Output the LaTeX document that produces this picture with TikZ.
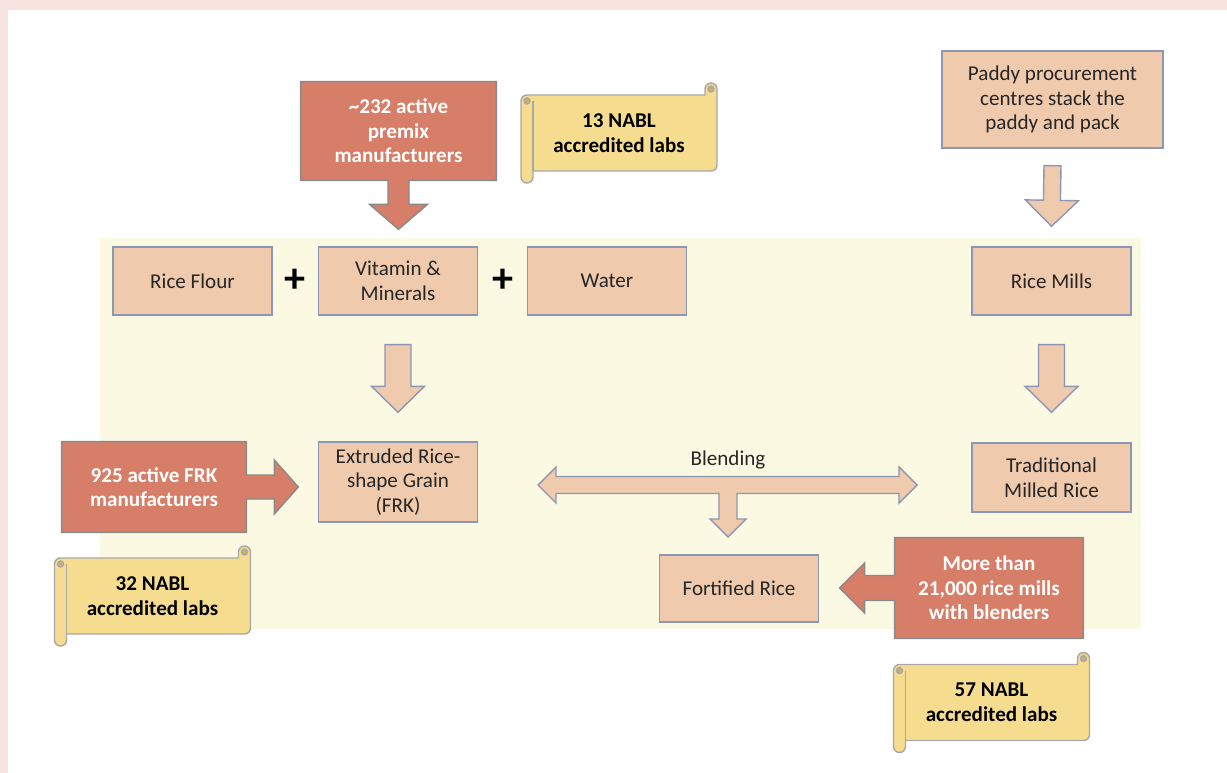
\documentclass[tikz,border=0pt]{standalone}
\usepackage{fontspec}
\setmainfont{Carlito}
\usetikzlibrary{backgrounds,calc}
\tikzset{>=latex}

\definecolor{pagepink}{HTML}{F7E4E0}
\definecolor{panelcream}{HTML}{FCF9E3}
\definecolor{peach}{HTML}{F0CAAD}
\definecolor{peachline}{HTML}{8C97B3}
\definecolor{brick}{HTML}{D67E67}
\definecolor{brickline}{HTML}{8A8A8A}
\definecolor{parchment}{HTML}{F5DC8F}
\definecolor{parchline}{HTML}{A8A8A8}
\definecolor{curl}{HTML}{C9B06A}
\definecolor{inkgray}{HTML}{262626}

\tikzset{
    stepbox/.style = {draw=peachline, fill=peach, line width=0.8pt, minimum width=3.18cm,
        minimum height=1.36cm, align=center, text=inkgray, font=\fontsize{12}{14}\selectfont},
    callouttext/.style = {inner sep=0pt, align=center, text=white, font=\bfseries\fontsize{12}{14}\selectfont},
    calloutline/.style = {draw=brickline, fill=brick, line width=0.8pt},
    labtext/.style = {align=center, text=black, font=\bfseries\fontsize{12}{14}\selectfont},
    scrollline/.style = {draw=parchline, fill=parchment, line width=0.8pt},
    flowarrow/.style = {draw=peachline, fill=peach, line width=0.8pt},
    plussign/.style = {text=black, font=\bfseries\fontsize{24}{24}\selectfont},
}

% block arrow from #2 to #3, #1 = half width of the shaft
\newcommand{\fatarrow}[3][0.26cm]{%
    \coordinate (fa-s) at #2;
    \coordinate (fa-e) at #3;
    \coordinate (fa-n) at ($(fa-e)!0.52cm!(fa-s)$);
    \filldraw[flowarrow] ($(fa-s)!#1!90:(fa-e)$) -- ($(fa-n)!#1!90:(fa-e)$)
        -- ($(fa-n)!0.53cm!90:(fa-e)$) -- (fa-e) -- ($(fa-n)!0.53cm!-90:(fa-e)$)
        -- ($(fa-n)!#1!-90:(fa-e)$) -- ($(fa-s)!#1!-90:(fa-e)$) -- cycle;
}

% parchment scroll behind a lab node
\newcommand{\labscroll}[1]{%
    \begin{scope}[on background layer, shift={(#1.center)}]
        \filldraw[scrollline] (-98,-32) arc[start angle=180, end angle=90, radius=0.12cm] -- (86,-38)
            -- (86,-44) arc[start angle=180, end angle=0, radius=0.12cm] -- (98,32)
            arc[start angle=0, end angle=-90, radius=0.12cm] -- (-86,38)
            -- (-86,44) arc[start angle=0, end angle=-180, radius=0.12cm] -- cycle;
        \draw[scrollline, fill=none] (-86,-32) -- (-86,38);
        \filldraw[scrollline, fill=curl] (-92,-32) circle[radius=0.06cm];
        \filldraw[scrollline, fill=curl] (92,-44) circle[radius=0.06cm];
    \end{scope}
}

\begin{document}
\begin{tikzpicture}[x=0.02cm, y=-0.02cm]

    \useasboundingbox (0,0) rectangle (1227,773);
    \begin{scope}[on background layer]
        \fill[pagepink] (0,0) rectangle (1227,773);
        \fill[white] (8,10) rectangle (1227,773);
        \fill[panelcream] (100,238) rectangle (1141,629);
    \end{scope}

    % process boxes
    \node[stepbox] (flour) at (192.5,281) {Rice Flour};
    \node[stepbox] (vit) at (398,281) {Vitamin \&\\Minerals};
    \node[stepbox] (water) at (607,281) {Water};
    \node[stepbox, minimum height=1.6cm] (ext) at (398,482) {Extruded Rice-\\shape Grain\\(FRK)};
    \node[stepbox, minimum width=4.42cm, minimum height=1.94cm] (paddy) at (1052.5,99.5) {Paddy procurement\\centres stack the\\paddy and pack};
    \node[stepbox] (mills) at (1051.5,281) {Rice Mills};
    \node[stepbox, minimum height=1.38cm] (trad) at (1051.5,477.5) {Traditional\\Milled Rice};
    \node[stepbox, minimum height=1.34cm] (fort) at (739,588.5) {Fortified Rice};

    \node[plussign] (plus1) at ($(flour.east)!0.5!(vit.west)$) {+};
    \node[plussign] (plus2) at ($(vit.east)!0.5!(water.west)$) {+};

    \fatarrow{($(vit.south)+(0,29)$)}{($(ext.north)+(0,-29)$)}
    \fatarrow{($(mills.south)+(0,29)$)}{($(trad.north)+(0,-30)$)}
    \fatarrow[0.17cm]{($(paddy.south)+(0,17)$)}{($(mills.north)+(0,-20)$)}

    % blending arrow
    \coordinate (blend) at (728,485);
    \filldraw[flowarrow, shift={(blend)}] (-190,0) -- (-172,-18) -- (-172,-8.5) -- (171,-8.5) -- (171,-18)
        -- (189,0) -- (171,18) -- (171,8.5) -- (9,8.5) -- (9,34) -- (18,34) -- (0,52) -- (-18,34)
        -- (-9,34) -- (-9,8.5) -- (-172,8.5) -- (-172,18) -- cycle;
    \node[text=inkgray, font=\fontsize{12}{14}\selectfont] (blendlbl) at ($(blend)+(0,-25)$) {Blending};

    % callouts
    \node[callouttext, minimum width=3.9cm, minimum height=1.96cm] (premix) at (398.5,131)
        {\textasciitilde232 active\\premix\\manufacturers};
    \node[callouttext, minimum width=3.68cm, minimum height=1.8cm] (frk) at (154,487)
        {925 active FRK\\manufacturers};
    \node[callouttext, minimum width=3.76cm, minimum height=2cm] (blender) at (989,588)
        {More than\\21,000 rice mills\\with blenders};

    \begin{scope}[on background layer]
        \filldraw[calloutline] (premix.north west) -- (premix.north east) -- (premix.south east)
            -- ($(premix.south)+(10.5,0)$) -- ++(0,24) -- ++(18.5,0) -- ($(premix.south)+(0,49)$)
            -- ++(-29,-25) -- ++(18.5,0) -- ++(0,-24) -- (premix.south west) -- cycle;
        \filldraw[calloutline] (frk.north west) -- (frk.north east) -- ($(frk.east)+(0,-12)$)
            -- ++(28,0) -- ++(0,-15) -- ($(frk.east)+(52,0)$) -- ++(-24,27) -- ++(0,-15)
            -- ++(-28,0) -- (frk.south east) -- (frk.south west) -- cycle;
        \filldraw[calloutline] (blender.north west) -- (blender.north east) -- (blender.south east)
            -- (blender.south west) -- ($(blender.west)+(0,12.5)$) -- ++(-30,0) -- ++(0,12.5)
            -- ($(blender.west)+(-55,0)$) -- ++(25,-25) -- ++(0,12.5) -- ++(30,0) -- cycle;
    \end{scope}

    % accredited labs
    \node[labtext] (labs13) at (619,133) {13 NABL\\accredited labs};
    \node[labtext] (labs32) at (152.5,596) {32 NABL\\accredited labs};
    \node[labtext] (labs57) at (991.5,702.5) {57 NABL\\accredited labs};
    \labscroll{labs13}
    \labscroll{labs32}
    \labscroll{labs57}

\end{tikzpicture}
\end{document}
